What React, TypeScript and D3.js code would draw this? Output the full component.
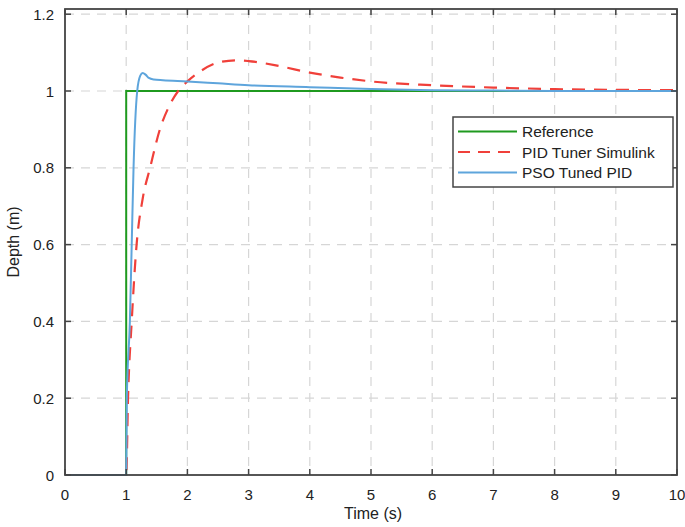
import React from "react";
import * as d3 from "d3";

const xTicks = [0, 1, 2, 3, 4, 5, 6, 7, 8, 9, 10];
const yTicks = [0, 0.2, 0.4, 0.6, 0.8, 1, 1.2];
const yTickLabels = ["0", "0.2", "0.4", "0.6", "0.8", "1", "1.2"];

const refT = [0, 1, 1, 10];
const refY = [0, 0, 1, 1];

const pidT = [0, 1, 1.03, 1.09, 1.17, 1.27, 1.39, 1.55, 1.7, 1.85, 2.0, 2.2, 2.5, 2.8, 3.0, 3.5, 4, 4.5, 5, 6, 7, 8, 9, 10];
const pidY = [0, 0, 0.2, 0.4, 0.6, 0.72, 0.8, 0.9, 0.96, 1.0, 1.025, 1.05, 1.074, 1.08, 1.078, 1.065, 1.048, 1.035, 1.025, 1.015, 1.009, 1.005, 1.003, 1.002];

const psoT = [0, 1.0, 1.01, 1.06, 1.09, 1.12, 1.18, 1.23, 1.27, 1.32, 1.37, 1.45, 1.6, 2, 2.5, 3, 4, 5, 6, 7, 8, 10];
const psoY = [0, 0, 0.2, 0.4, 0.6, 0.8, 1.0, 1.04, 1.047, 1.042, 1.034, 1.03, 1.028, 1.025, 1.02, 1.015, 1.01, 1.005, 1.002, 1.001, 1.0, 1.0];

const legendLabels = ["Reference", "PID Tuner Simulink", "PSO Tuned PID"];
const colors = ["#1f9a1f", "#f0403a", "#5ea5dc"];

export default function App() {
  const W = 685, H = 527;
  const left = 65, right = 677, top = 9, bottom = 475;
  const x = d3.scaleLinear().domain([0, 10]).range([left, right]);
  const y = d3.scaleLinear().domain([0, 1]).range([bottom, 91]);

  const lineLin = d3.line<[number, number]>().x(d => x(d[0])).y(d => y(d[1]));
  const lineSmooth = d3.line<[number, number]>().x(d => x(d[0])).y(d => y(d[1])).curve(d3.curveMonotoneX);

  const refPts = refT.map((t, i) => [t, refY[i]] as [number, number]);
  const pidPts = pidT.map((t, i) => [t, pidY[i]] as [number, number]);
  const psoPts = psoT.map((t, i) => [t, psoY[i]] as [number, number]);

  const font = "'Liberation Sans', Arial, sans-serif";
  const lg = { x0: 453, y0: 117, w: 220, h: 70 };

  return (
    <svg width={W} height={H} style={{ position: "absolute", left: 0, top: 0, background: "#fff" }} fontFamily={font}>
      <rect x={0} y={0} width={W} height={H} fill="#fff" />
      {xTicks.slice(1, -1).map(t => (
        <line key={"gx" + t} x1={x(t)} x2={x(t)} y1={top} y2={bottom} stroke="#d6d6d6" strokeWidth={1.2} strokeDasharray="9,7" />
      ))}
      {yTicks.slice(1).map(t => (
        <line key={"gy" + t} x1={left} x2={right} y1={y(t)} y2={y(t)} stroke="#d6d6d6" strokeWidth={1.2} strokeDasharray="9,7" />
      ))}
      <path d={lineLin(refPts) || ""} fill="none" stroke={colors[0]} strokeWidth={2} />
      <path d={lineSmooth(pidPts) || ""} fill="none" stroke={colors[1]} strokeWidth={2.2} strokeDasharray="13,9" />
      <path d={lineSmooth(psoPts) || ""} fill="none" stroke={colors[2]} strokeWidth={2} />
      <rect x={left} y={top} width={right - left} height={bottom - top} fill="none" stroke="#444" strokeWidth={1.8} />
      {xTicks.map(t => (
        <g key={"tx" + t}>
          <line x1={x(t)} x2={x(t)} y1={bottom} y2={bottom - 6} stroke="#444" strokeWidth={1.5} />
          <line x1={x(t)} x2={x(t)} y1={top} y2={top + 6} stroke="#444" strokeWidth={1.5} />
          <text x={x(t)} y={500} textAnchor="middle" fontSize={15} fill="#222">{t}</text>
        </g>
      ))}
      {yTicks.map((t, i) => (
        <g key={"ty" + t}>
          <line x1={left} x2={left + 6} y1={y(t)} y2={y(t)} stroke="#444" strokeWidth={1.5} />
          <line x1={right} x2={right - 6} y1={y(t)} y2={y(t)} stroke="#444" strokeWidth={1.5} />
          <text x={54} y={y(t) + 5.5} textAnchor="end" fontSize={15} fill="#222">{yTickLabels[i]}</text>
        </g>
      ))}
      <text x={373} y={519} textAnchor="middle" fontSize={16} fill="#222">Time (s)</text>
      <text transform={`translate(19,242) rotate(-90)`} textAnchor="middle" fontSize={16} fill="#222">Depth (m)</text>
      <rect x={lg.x0} y={lg.y0} width={lg.w} height={lg.h} fill="#fff" stroke="#444" strokeWidth={1.5} />
      {legendLabels.map((l, i) => {
        const yy = lg.y0 + 14.5 + i * 20.5;
        return (
          <g key={l}>
            <line x1={458} x2={517} y1={yy} y2={yy} stroke={colors[i]} strokeWidth={2} strokeDasharray={i === 1 ? "12,8" : undefined} />
            <text x={522} y={yy + 5.5} fontSize={15.5} fill="#222">{l}</text>
          </g>
        );
      })}
    </svg>
  );
}
